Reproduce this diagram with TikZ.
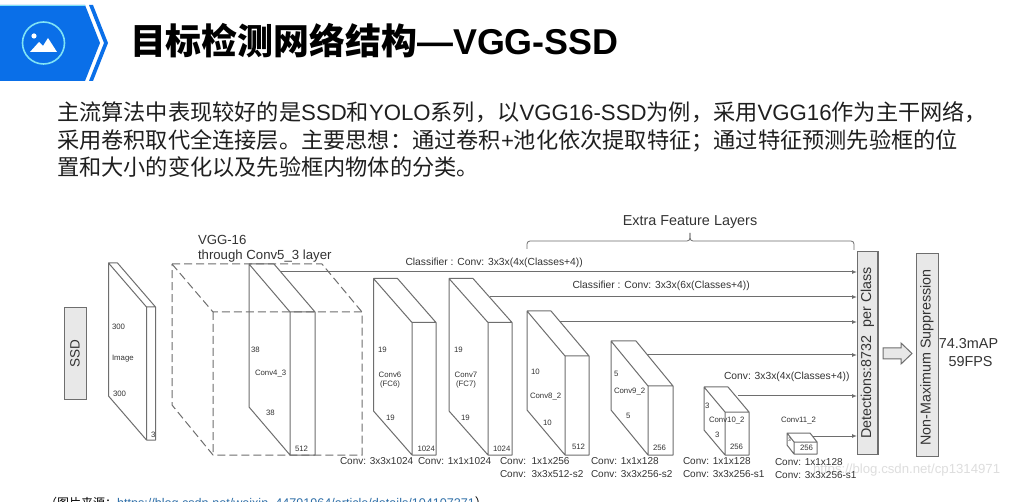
\documentclass[tikz,border=0pt]{standalone}
\usepackage{fontspec}
\setmainfont{Liberation Sans}
\newfontfamily\cjk{Noto Sans CJK SC}
\newfontfamily\cjkb{Noto Sans CJK SC Bold}
\usetikzlibrary{arrows.meta}
\definecolor{hdrblue}{HTML}{0A6FE8}
\definecolor{hdrcyan}{HTML}{7FE3F5}
\definecolor{linegray}{HTML}{6E6E6E}
\definecolor{boxgray}{HTML}{E8E8E8}
\definecolor{txtgray}{HTML}{333333}
\definecolor{linkblue}{HTML}{2F6FA8}
\newcommand{\zh}[1]{{\cjk #1}}
\tikzset{
 x=1pt,y=-1pt,
 every node/.style={inner sep=0pt,outer sep=0pt},
 ln/.style={draw=linegray,line width=1pt},
 dsh/.style={draw=linegray,line width=1pt,dash pattern=on 8pt off 4pt},
 conn/.style={draw=linegray,line width=1pt,-{Latex[length=5pt,width=4pt]}},
 lab/.style={font=\fontsize{7.8}{9}\selectfont,text=txtgray},
 cls/.style={font=\fontsize{10.3}{12}\selectfont,text=txtgray,anchor=west},
 op/.style={font=\fontsize{10}{13}\selectfont,text=txtgray,anchor=west,align=left},
 para/.style={font=\fontsize{22.2}{24}\selectfont,text=black!88,anchor=base west},
 sidebox/.style={draw=linegray,line width=1pt,fill=boxgray},
 sidetxt/.style={rotate=90,font=\fontsize{14.3}{15}\selectfont,text=black!80},
}
% #1 x left-back, #2 y top-back, #3 dx depth, #4 dy depth, #5 width, #6 height
\newcommand{\slab}[7]{%
 \coordinate (#7a) at (#1,#2);
 \coordinate (#7b) at (#1+#5,#2);
 \coordinate (#7c) at (#1+#5+#3,#2+#4);
 \coordinate (#7d) at (#1+#3,#2+#4);
 \coordinate (#7e) at (#1+#3,#2+#4+#6);
 \coordinate (#7f) at (#1+#5+#3,#2+#4+#6);
 \coordinate (#7g) at (#1,#2+#6);
 \draw[ln,line join=round] (#7a)--(#7b)--(#7c)--(#7f)--(#7e)--(#7g)--cycle (#7a)--(#7d)--(#7c) (#7d)--(#7e);
}
\begin{document}
\begin{tikzpicture}
\useasboundingbox (0,0) rectangle (1036,502);
\fill[white] (0,0) rectangle (1036,502);
% header badge
\fill[hdrblue] (0,5) -- (85,5) -- (100,43) -- (85,81) -- (0,81) -- cycle;
\draw[hdrcyan,line width=0.7pt] (0,5) -- (85,5);
\fill[hdrblue] (89,5) -- (93,5) -- (108,43) -- (93,81) -- (89,81) -- (104,43) -- cycle;
\draw[hdrcyan,line width=1.6pt] (43.5,43) circle (21);
\fill[white] (34,36) circle (2.6);
\fill[white] (30,52) -- (39,42) -- (43,46) -- (48,38) -- (57,52) -- cycle;
\node[anchor=base west,font=\fontsize{35.9}{37}\selectfont\bfseries] (title) at (130,55) {{\cjkb 目标检测网络结构}—VGG-SSD};
% paragraph
\node[para] (p1) at (57,121) {\zh{主流算法中表现较好的是}SSD\zh{和}YOLO\zh{系列，以}VGG16-SSD\zh{为例，采用}VGG16\zh{作为主干网络，}};
\node[para] (p2) at (57,148.5) {\zh{采用卷积取代全连接层。主要思想：通过卷积}+\zh{池化依次提取特征；通过特征预测先验框的位}};
\node[para] (p3) at (57,176) {\zh{置和大小的变化以及先验框内物体的分类。}};
% SSD
\node[sidebox,minimum width=22pt,minimum height=92pt,anchor=north west] (ssd) at (64,308) {};
\node[rotate=90,font=\fontsize{13.5}{14}\selectfont,text=txtgray] (ssdt) at (75,354) {SSD};
% image slab
\slab{108.5}{263}{38}{44}{9}{133}{im}
\node[lab,anchor=west] (i1) at (112,327) {300};
\node[lab,anchor=west] (i2) at (112,359) {Image};
\node[lab,anchor=west] (i3) at (113,394) {300};
\node[lab,anchor=west] (i4) at (151,435) {3};
% dashed cube
\draw[dsh] (172,264) -- (322,264) -- (362,312) -- (362,455) -- (213,455) -- (172,405) -- cycle;
\draw[dsh] (172,264) -- (213,312) -- (362,312) (213,312) -- (213,455);
% Conv4_3
\slab{249}{264}{41}{48}{25}{143}{cf}
\node[lab,anchor=west] (c1) at (251,350) {38};
\node[lab,anchor=west] (c2) at (255,374) {Conv4\_3};
\node[lab,anchor=west] (c3) at (266,413) {38};
\node[lab,anchor=west] (c4) at (295,449) {512};
\node[font=\fontsize{13.2}{15}\selectfont,text=txtgray,anchor=west,align=left] (vgg) at (198,248.5) {VGG-16\\through Conv5\_3 layer};
% Conv6
\slab{373.5}{278.5}{38.5}{44}{24}{132.5}{cs}
\node[lab,anchor=west] (s1) at (378,350) {19};
\node[lab,anchor=center,align=center] (s2) at (390,380) {Conv6\\(FC6)};
\node[lab,anchor=west] (s3) at (386,418) {19};
\node[lab,anchor=west] (s4) at (417.5,449) {1024};
% Conv7
\slab{449}{278.5}{39}{44}{24}{132.5}{cv}
\node[lab,anchor=west] (v1) at (454,350) {19};
\node[lab,anchor=center,align=center] (v2) at (466,380) {Conv7\\(FC7)};
\node[lab,anchor=west] (v3) at (461,418) {19};
\node[lab,anchor=west] (v4) at (493,449) {1024};
% Conv8_2
\slab{527}{311}{38}{45}{24}{99}{ce}
\node[lab,anchor=west] (e1) at (531,372) {10};
\node[lab,anchor=west] (e2) at (530,397) {Conv8\_2};
\node[lab,anchor=west] (e3) at (543,423) {10};
\node[lab,anchor=west] (e4) at (572,447) {512};
% Conv9_2
\slab{611}{341}{37}{45}{25}{69}{cn}
\node[lab,anchor=west] (n1) at (614,374) {5};
\node[lab,anchor=west] (n2) at (614,392) {Conv9\_2};
\node[lab,anchor=west] (n3) at (626,416) {5};
\node[lab,anchor=west] (n4) at (653,448) {256};
% Conv10_2
\slab{704}{387}{21}{25}{24}{43}{ct}
\node[lab,anchor=west] (t1) at (705,406) {3};
\node[lab,anchor=west] (t2) at (709,421) {Conv10\_2};
\node[lab,anchor=west] (t3) at (715,435) {3};
\node[lab,anchor=west] (t4) at (730,447) {256};
% Conv11_2
\slab{787}{433}{7}{9}{23}{12}{cl}
\node[lab,anchor=west] (l0) at (781,421) {Conv11\_2};
\node[font=\fontsize{5}{5}\selectfont,text=txtgray,anchor=west] (l1) at (788,440) {3};
\node[lab,anchor=west] (l4) at (800,448) {256};
% brace
\draw[ln,line width=0.8pt,rounded corners=3pt] (527,249) -- (527,241) -- (690,241) -- (690,233);
\draw[ln,line width=0.8pt,rounded corners=3pt] (690,233) -- (690,241) -- (854,241) -- (854,250);
\node[font=\fontsize{14.4}{15}\selectfont,text=txtgray] (extra) at (690,222) {Extra Feature Layers};
% Detections
\node[sidebox,minimum width=21pt,minimum height=202pt,anchor=north west] (det) at (857,252) {};
\draw[draw=linegray,line width=1.4pt] (det.north east) -- (det.south east);
\node[sidetxt] (dett) at (867.5,353) {Detections:8732\ \ per Class};
% arrow
\draw[draw=linegray,line width=1pt,fill=boxgray] (883,348) -- (901,348) -- (901,343) -- (912,353.5) -- (901,364) -- (901,359) -- (883,359) -- cycle;
% NMS
\node[sidebox,minimum width=22pt,minimum height=202pt,anchor=north west] (nms) at (916,254) {};
\node[sidetxt] (nmst) at (927,357.5) {Non-Maximum Suppression};
\node[font=\fontsize{14.4}{18}\selectfont,anchor=center,align=center,text=txtgray] (res) at (968.5,353) {74.3mAP\\ \ 59FPS};
% connectors
\coordinate (s1c) at (280,272);
\coordinate (s2c) at (490,297);
\coordinate (s3c) at (560,322);
\coordinate (s4c) at (647,355);
\coordinate (s5c) at (738,396);
\coordinate (s6c) at (813,436);
\draw[conn] (s1c) -- (det.west |- s1c);
\draw[conn] (s2c) -- (det.west |- s2c);
\draw[conn] (s3c) -- (det.west |- s3c);
\draw[conn] (s4c) -- (det.west |- s4c);
\draw[conn] (s5c) -- (det.west |- s5c);
\draw[conn] (s6c) -- (det.west |- s6c);
% classifier labels
\node[cls] (k1) at (405.5,262.5) {Classifier : Conv: 3x3x(4x(Classes+4))};
\node[cls] (k2) at (572.5,285.5) {Classifier : Conv: 3x3x(6x(Classes+4))};
\node[cls] (k3) at (724,377) {Conv: 3x3x(4x(Classes+4))};
% watermark, under the labels
\node[font=\fontsize{13.2}{14}\selectfont,text=black!13,anchor=west] (wm) at (813,470) {https://blog.csdn.net/cp1314971};
% op labels
\node[op] (o1) at (340,461.5) {Conv: 3x3x1024};
\node[op] (o2) at (418,461.5) {Conv: 1x1x1024};
\node[op,anchor=north west] (o3) at (500,458) {Conv:\ \ 1x1x256\\Conv:\ \ 3x3x512-s2};
\node[op,anchor=north west] (o4) at (591,458) {Conv: 1x1x128\\Conv: 3x3x256-s2};
\node[op,anchor=north west] (o5) at (683,458) {Conv: 1x1x128\\Conv: 3x3x256-s1};
\node[op,anchor=north west] (o6) at (775,459) {Conv: 1x1x128\\Conv: 3x3x256-s1};
% source
\node[font=\fontsize{12.6}{13}\selectfont,anchor=base west] (src) at (45,507) {{\cjk\fontsize{12}{13}\selectfont （图片来源：}\textcolor{linkblue}{https://blog.csdn.net/weixin\_44791964/article/details/104107271}{\cjk ）}};
\end{tikzpicture}
\end{document}
